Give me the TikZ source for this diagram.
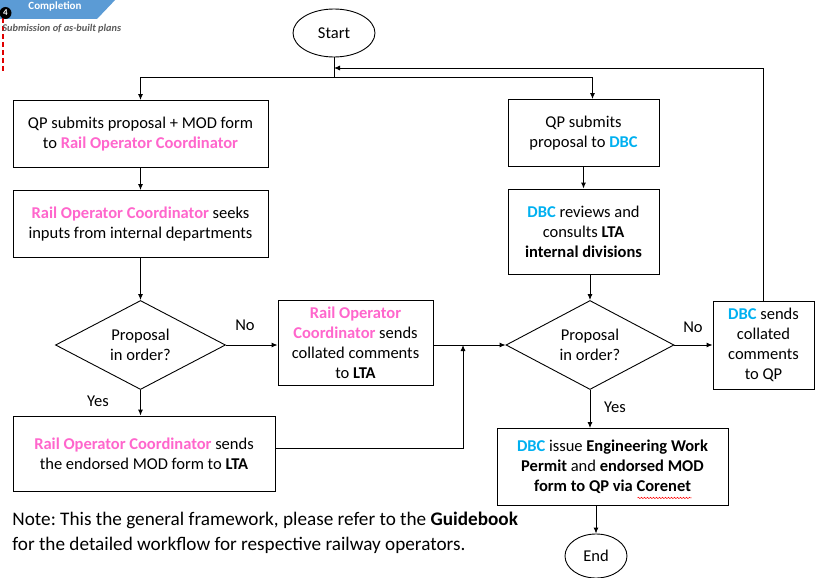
\documentclass[tikz,border=0pt]{standalone}
\usepackage{fontspec}
\setmainfont{Carlito}
\usetikzlibrary{shapes.geometric,graphs,arrows.meta,decorations.pathmorphing}

\definecolor{rocpink}{HTML}{FF66CC}
\definecolor{dbcblue}{HTML}{00B0F0}
\definecolor{bannerblue}{HTML}{5B9BD5}
\definecolor{notegray}{HTML}{595959}
\definecolor{guidered}{HTML}{E00000}

\newcommand{\roc}[1]{\textcolor{rocpink}{\textbf{#1}}}
\newcommand{\dbc}{\textcolor{dbcblue}{\textbf{DBC}}}
\frenchspacing

\begin{document}
\begin{tikzpicture}[x=1pt,y=-1pt,line width=0.9pt,>={Latex[length=6pt,width=5pt]},
	box/.style={draw,rectangle,black,inner sep=0pt,align=center,font=\fontsize{16.5}{20}\selectfont},
	decision/.style={draw,diamond,black,aspect=1.9,inner sep=0pt,align=center,font=\fontsize{16.5}{20}\selectfont},
	terminal/.style={draw,ellipse,black,inner sep=0pt,font=\fontsize{16.5}{18}\selectfont},
	answer/.style={font=\fontsize{16.5}{18}\selectfont}]
	
	\useasboundingbox (0,0) rectangle (817,578);
	
	% cut-off phase banner, top left
	\fill[bannerblue] (0,-2) -- (117,-2) -- (97,19) -- (0,19) -- cycle;
	\node [name=phase,text=white,font=\bfseries\fontsize{11}{12}\selectfont] at (55,6) {Completion};
	\draw[draw=guidered,line width=1.4pt,dash pattern=on 5pt off 3pt] (3,18) -- (3,72);
	\node [name=stepno,circle,fill=black,text=white,inner sep=0pt,minimum size=12,font=\bfseries\fontsize{9}{9}\selectfont] at (5.5,13) {4};
	\node [name=substep,anchor=west,inner sep=0pt,text=notegray,font=\bfseries\itshape\fontsize{10.3}{12}\selectfont] at (2,29) {Submission of as-built plans};
	
	\node [name=start,terminal,minimum width=82,minimum height=48] at (334,33) {Start};
	
	\node [name=qpform,box,minimum width=255,minimum height=67] at (140.5,134) {QP submits proposal + MOD form\\to \roc{Rail Operator Coordinator}};
	\node [name=seeks,box,minimum width=255,minimum height=67] at (140.5,224) {\roc{Rail Operator Coordinator} seeks\\inputs from internal departments};
	\node [name=checkroc,decision,minimum width=170,minimum height=89] at (140.5,345) {Proposal\\in order?};
	\node [name=rocsends,box,minimum width=155,minimum height=85] at (355.5,343) {\roc{Rail Operator}\\\roc{Coordinator} sends\\collated comments\\to \textbf{LTA}};
	\node [name=endorse,box,minimum width=262,minimum height=75] at (144,453.5) {\roc{Rail Operator Coordinator} sends\\the endorsed MOD form to \textbf{LTA}};
	
	\node [name=qpdbc,box,minimum width=151,minimum height=67] at (583.5,133) {QP submits\\proposal to \dbc};
	\node [name=reviews,box,minimum width=151,minimum height=85] at (583.5,231.5) {\dbc{} reviews and\\consults \textbf{LTA}\\\textbf{internal divisions}};
	\node [name=checkdbc,decision,minimum width=168,minimum height=89] at (590,345) {Proposal\\in order?};
	\node [name=dbcsends,box,minimum width=101,minimum height=88] at (763.5,345) {\dbc{} sends\\collated\\comments\\to QP};
	\node [name=permit,box,minimum width=231,minimum height=77] at (612.5,467) {\dbc{} issue \textbf{Engineering Work}\\\textbf{Permit} and \textbf{endorsed MOD}\\\textbf{form to QP via Corenet}};
	\node [name=finish,terminal,minimum width=62,minimum height=44] at (596,556) {End};
	
	% spell-check wave under Corenet
	\draw[red,line width=0.5pt,decorate,decoration={snake,amplitude=0.7pt,segment length=3pt}]
		([shift={(25,-8)}]permit.south) -- ([shift={(79,-8)}]permit.south);
	
	\node [name=no1,answer] at (245,325) {No};
	\node [name=yes1,answer] at (98,401) {Yes};
	\node [name=no2,answer] at (693,327) {No};
	\node [name=yes2,answer] at (615,407) {Yes};
	
	\node [name=note,anchor=north west,align=left,inner sep=0pt,font=\fontsize{19.2}{25}\selectfont] at (12,512) {Note: This the general framework, please refer to the \textbf{Guidebook}\\for the detailed workflow for respective railway operators.};
	
	\coordinate (split) at (334,77);
	\coordinate (loopback) at (334,68);
	\coordinate (merge) at (463,345);
	
	\draw (start) -- (split);
	\draw[->] (split) -| (qpform.north);
	\draw[->] (split) -| ([xshift=9pt]qpdbc.north);
	
	\graph {(qpform) -> (seeks) -> (checkroc)};
	\draw[->] (checkroc.east) -- (checkroc.east -| rocsends.west);
	\draw[->] (checkroc.south) -- (checkroc.south |- endorse.north);
	\draw[->] (rocsends.east |- checkdbc) -- (checkdbc.west);
	\draw[->] ([yshift=5pt]endorse.east) -| (merge);
	
	\graph {(qpdbc) -> (reviews)};
	\draw[->] (reviews.south -| checkdbc) -- (checkdbc.north);
	\graph {(checkdbc) -> (dbcsends)};
	\draw[->] (checkdbc.south) -- (checkdbc.south |- permit.north);
	\draw[->] (dbcsends.north) |- (loopback);
	\draw[->] (permit.south -| finish) -- (finish);
	
\end{tikzpicture}
\end{document}
